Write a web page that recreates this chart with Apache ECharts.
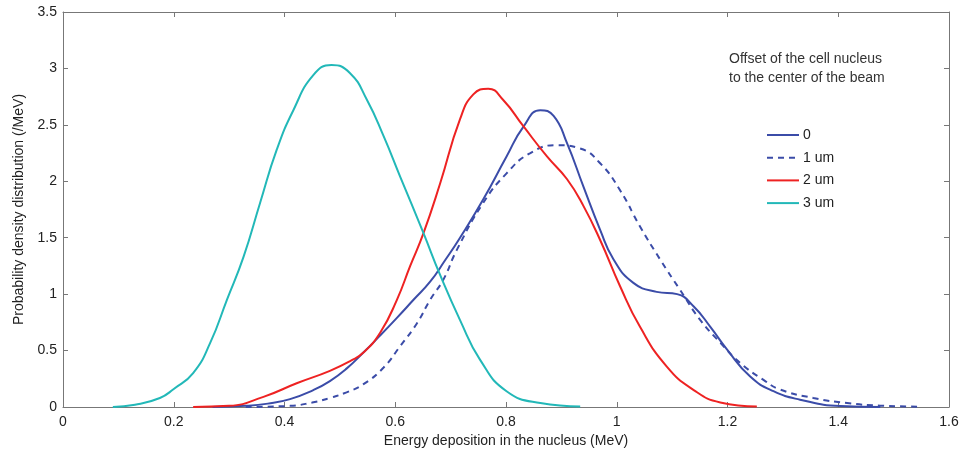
<!DOCTYPE html>
<html>
<head>
<meta charset="utf-8">
<script src="https://cdn.jsdelivr.net/npm/echarts@6/dist/echarts.min.js"></script>
<style>html,body{margin:0;padding:0;background:#fff}#c{width:962px;height:449px}</style>
</head>
<body>
<div id="c"></div>
<script>
const seriesNames = ['0', '1 um', '2 um', '3 um'];
const xTicks = [0, 0.2, 0.4, 0.6, 0.8, 1, 1.2, 1.4, 1.6];
const yTicks = [0, 0.5, 1, 1.5, 2, 2.5, 3, 3.5];

const s0X = [0.27, 0.33, 0.37, 0.41, 0.452, 0.482, 0.512, 0.542, 0.572, 0.603, 0.633, 0.663, 0.69, 0.717, 0.759, 0.801, 0.831, 0.862, 0.886, 0.910, 0.940, 0.970, 0.994, 1.030, 1.072, 1.109, 1.139, 1.169, 1.199, 1.241, 1.283, 1.331, 1.404, 1.476];
const s0Y = [0, 0.01, 0.03, 0.07, 0.15, 0.23, 0.34, 0.48, 0.63, 0.79, 0.95, 1.11, 1.30, 1.50, 1.84, 2.22, 2.48, 2.63, 2.58, 2.34, 1.95, 1.57, 1.31, 1.10, 1.02, 1.00, 0.89, 0.71, 0.51, 0.27, 0.14, 0.065, 0.008, 0];

const s1X = [0.33, 0.41, 0.45, 0.482, 0.512, 0.542, 0.579, 0.609, 0.639, 0.663, 0.687, 0.711, 0.759, 0.801, 0.844, 0.892, 0.934, 0.970, 1.006, 1.042, 1.078, 1.114, 1.151, 1.187, 1.223, 1.265, 1.295, 1.355, 1.416, 1.476, 1.548];
const s1Y = [0, 0.01, 0.04, 0.08, 0.13, 0.20, 0.35, 0.54, 0.74, 0.95, 1.13, 1.39, 1.81, 2.07, 2.25, 2.32, 2.29, 2.16, 1.92, 1.60, 1.31, 1.04, 0.77, 0.57, 0.39, 0.24, 0.155, 0.08, 0.035, 0.012, 0.003];

const s2X = [0.235, 0.30, 0.362, 0.422, 0.482, 0.52, 0.542, 0.573, 0.603, 0.627, 0.651, 0.681, 0.717, 0.741, 0.768, 0.795, 0.831, 0.874, 0.910, 0.940, 0.970, 1.006, 1.042, 1.09, 1.139, 1.187, 1.253];
const s2Y = [0, 0.01, 0.09, 0.21, 0.32, 0.41, 0.48, 0.66, 0.95, 1.25, 1.54, 1.98, 2.55, 2.77, 2.82, 2.72, 2.49, 2.22, 2.02, 1.78, 1.48, 1.07, 0.71, 0.36, 0.15, 0.04, 0.005];

const s3X = [0.09, 0.13, 0.175, 0.2, 0.235, 0.266, 0.296, 0.326, 0.356, 0.386, 0.416, 0.452, 0.485, 0.518, 0.549, 0.579, 0.609, 0.651, 0.681, 0.717, 0.753, 0.801, 0.862, 0.934];
const s3Y = [0, 0.02, 0.08, 0.16, 0.30, 0.57, 0.95, 1.33, 1.81, 2.28, 2.63, 2.94, 3.03, 2.96, 2.72, 2.40, 2.04, 1.54, 1.17, 0.77, 0.42, 0.14, 0.035, 0.005];

const colors = ['#3b4ca8', '#3b4ca8', '#ee2222', '#22b8b8'];
const dashes = ['solid', [6, 5], 'solid', 'solid'];
const allX = [s0X, s1X, s2X, s3X];
const allY = [s0Y, s1Y, s2Y, s3Y];

const font = 'Liberation Sans, Arial, Helvetica, sans-serif';
const axisCol = '#777';
const labelCol = '#222';

const chart = echarts.init(document.getElementById('c'), null, {renderer: 'canvas'});
const series = seriesNames.map((n, i) => ({
  name: n,
  type: 'line',
  smooth: 0.5,
  symbol: 'none',
  showSymbol: false,
  xAxisIndex: 0, yAxisIndex: 0,
  lineStyle: {color: colors[i], width: 2, type: dashes[i]},
  itemStyle: {color: colors[i]},
  data: allX[i].map((x, k) => [x, allY[i][k]]),
  z: 3
}));

const baseX = {
  type: 'value', min: xTicks[0], max: xTicks[xTicks.length - 1], interval: 0.2,
  splitLine: {show: false},
  axisLine: {show: true, onZero: false, lineStyle: {color: axisCol, width: 1}},
  axisTick: {show: true, inside: true, length: 5, lineStyle: {color: axisCol}}
};
const baseY = {
  type: 'value', min: yTicks[0], max: yTicks[yTicks.length - 1], interval: 0.5,
  splitLine: {show: false},
  axisLine: {show: true, onZero: false, lineStyle: {color: axisCol, width: 1}},
  axisTick: {show: true, inside: true, length: 5, lineStyle: {color: axisCol}}
};

chart.setOption({
  animation: false,
  backgroundColor: '#fff',
  textStyle: {fontFamily: font},
  grid: {left: 63, right: 13, top: 12, bottom: 42, containLabel: false, outerBoundsMode: 'none'},
  title: {
    text: 'Offset of the cell nucleus\nto the center of the beam',
    left: 724, top: 45,
    textStyle: {fontSize: 14, fontWeight: 'normal', color: '#333', lineHeight: 19, fontFamily: font}
  },
  legend: {
    orient: 'vertical', left: 761, top: 123,
    itemWidth: 32, itemHeight: 14, itemGap: 8.7,
    itemStyle: {opacity: 0},
    textStyle: {fontSize: 14, color: '#222', fontFamily: font, padding: [0, 0, 0, -1]},
    data: seriesNames
  },
  xAxis: [
    Object.assign({}, baseX, {
      position: 'bottom',
      name: 'Energy deposition in the nucleus (MeV)', nameLocation: 'middle', nameGap: 24,
      nameTextStyle: {fontSize: 14, color: labelCol, fontFamily: font},
      axisLabel: {fontSize: 14, color: labelCol, margin: 8, fontFamily: font}
    }),
    Object.assign({}, baseX, {position: 'top', axisLabel: {show: false}})
  ],
  yAxis: [
    Object.assign({}, baseY, {
      position: 'left',
      name: 'Probability density distribution (/MeV)', nameLocation: 'middle', nameGap: 32,
      nameTextStyle: {fontSize: 14, color: labelCol, fontFamily: font},
      axisLabel: {fontSize: 14, color: labelCol, margin: 6, fontFamily: font}
    }),
    Object.assign({}, baseY, {position: 'right', axisLabel: {show: false}})
  ],
  series: series
});
</script>
</body>
</html>
